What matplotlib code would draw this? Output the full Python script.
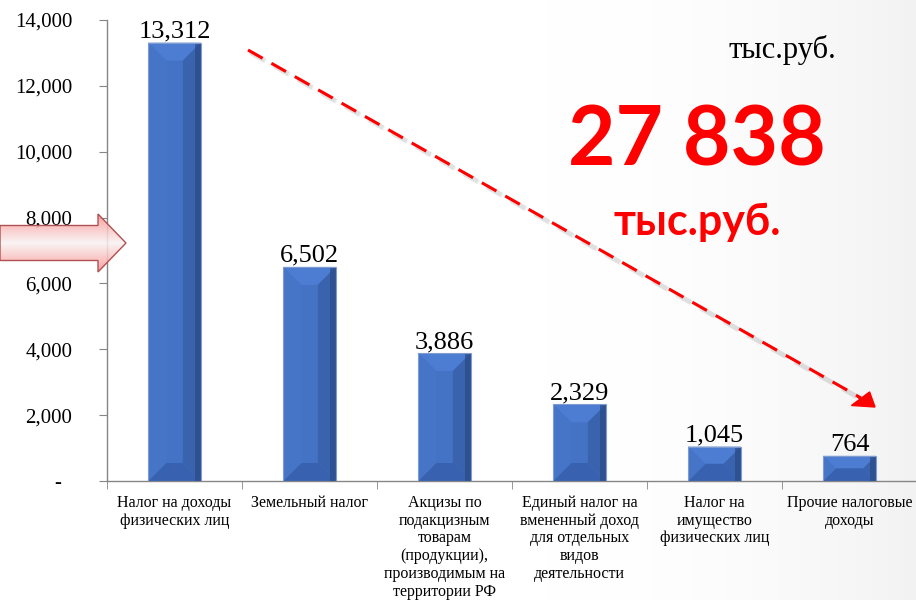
import numpy as np
import matplotlib
matplotlib.use("Agg")
from matplotlib import pyplot as plt
from matplotlib.patches import Polygon, FancyArrow
from matplotlib.lines import Line2D
from matplotlib.ticker import FuncFormatter

categories = [
    "Налог на доходы\nфизических лиц",
    "Земельный налог",
    "Акцизы по\nподакцизным\nтоварам\n(продукции),\nпроизводимым на\nтерритории РФ",
    "Единый налог на\nвмененный доход\nдля отдельных\nвидов\nдеятельности",
    "Налог на\nимущество\nфизических лиц",
    "Прочие налоговые\nдоходы",
]
values = [13312, 6502, 3886, 2329, 1045, 764]
total_label = "27 838"
unit_label = "тыс.руб."
y_ticks = [0, 2000, 4000, 6000, 8000, 10000, 12000, 14000]

serif = "Liberation Serif"
bold_sans = "Lato"

W, H = 916, 600
fig = plt.figure(figsize=(W / 100, H / 100), dpi=100)

# faint grey background towards the right edge
bg = fig.add_axes([0, 0, 1, 1], zorder=-10)
gx, gy = np.meshgrid(np.linspace(0, 1, 200), np.linspace(0, 1, 200))
shade = 1.0 - 0.05 * np.clip((gx - 0.6) / 0.4, 0, 1) ** 2
bg.imshow(np.dstack([shade] * 3), extent=[0, 1, 0, 1], aspect="auto")
bg.set_axis_off()

ax = fig.add_axes([107 / W, 1 - 481 / H, 810 / W, 461 / H])
ax.patch.set_alpha(0)

x = np.arange(len(values))
bar_w = 0.39
bars = ax.bar(x, values, width=bar_w, color="#4472C4", edgecolor="none", zorder=3)

# bevel look on the bars
px_y = 14000 / 461
px_x = 6 / 810
for b in bars:
    x0, w, h = b.get_x(), b.get_width(), b.get_height()
    x1, y1 = x0 + w, h
    d = min(18, h / px_y / 2)
    dx, dy = d * px_x, d * px_y
    faces = [
        ([(x0, y1), (x1, y1), (x1 - dx, y1 - dy), (x0 + dx, y1 - dy)], "#4D7DD2"),
        ([(x0, 0), (x1, 0), (x1 - dx, dy), (x0 + dx, dy)], "#3862B0"),
        ([(x0, 0), (x0, y1), (x0 + dx, y1 - dy), (x0 + dx, dy)], "#4675C8"),
        ([(x1, 0), (x1, y1), (x1 - dx, y1 - dy), (x1 - dx, dy)], "#3A63AE"),
    ]
    for pts, c in faces:
        ax.add_patch(Polygon(pts, closed=True, facecolor=c, edgecolor="none",
                             zorder=4))
    # darker strip along the right edge
    ax.add_patch(Polygon([(x1 - 6 * px_x, 0), (x1 - 6 * px_x, y1), (x1, y1), (x1, 0)],
                         closed=True, facecolor="#2A4A86", edgecolor="none",
                         alpha=0.7, zorder=4))
    ax.add_patch(Polygon([(x0, 0), (x0, y1), (x1, y1), (x1, 0)], closed=True,
                         fill=False, edgecolor="#7F9BCF", linewidth=0.8, zorder=5))

for xi, v in zip(x, values):
    ax.annotate(f"{v:,}", (xi, v), xytext=(0, 0), textcoords="offset points",
                ha="center", va="bottom", fontsize=19, family=serif, zorder=6)

ax.set_xlim(-0.5, len(values) - 0.5)
ax.set_ylim(0, 14000)
ax.set_yticks(y_ticks)
ax.yaxis.set_major_formatter(FuncFormatter(lambda v, p: "-  " if v == 0 else f"{int(v):,}"))
ax.tick_params(axis="y", length=6, color="#868686", labelsize=15, pad=19)
for t in ax.get_yticklabels():
    t.set_family(serif)

ax.set_xticks(x)
ax.set_xticklabels(categories, fontsize=11.5, family=serif, linespacing=1.15)
ax.set_xticks(np.arange(-0.5, len(values)), minor=True)
ax.tick_params(axis="x", which="major", length=0, pad=10)
ax.tick_params(axis="x", which="minor", length=6, color="#868686")

for s in ["top", "right"]:
    ax.spines[s].set_visible(False)
for s in ["left", "bottom"]:
    ax.spines[s].set_color("#868686")
    ax.spines[s].set_linewidth(1.0)

# texts on the right
fig.text(782 / W, 1 - 50 / H, unit_label, ha="center", va="center",
         fontsize=22, family=serif)
fig.text(697 / W, 1 - 142 / H, total_label, ha="center", va="center",
         fontsize=59, family=bold_sans, weight="bold", color="#FF0000")
fig.text(697 / W, 1 - 222 / H, unit_label, ha="center", va="center",
         fontsize=31, family=bold_sans, weight="bold", color="#FF0000")

# dashed red trend arrow with a soft shadow
sx, sy = 248 / W, 1 - 50 / H
ex, ey = 875 / W, 1 - 407 / H
lx, ly = ex - 14 / W, ey + 9 / H
for off, a in [(3, 0.10), (2, 0.15)]:
    fig.add_artist(Line2D([sx + off / W, lx + off / W], [sy - off / H, ly - off / H],
                          color="#808080", alpha=a, lw=3.5, dashes=(3.5, 2.1)))
fig.add_artist(Line2D([sx, lx], [sy, ly], color="#FF0000", lw=2.2,
                      dashes=(5.5, 3.3)))
head_len = 20
fig.patches.append(FancyArrow(ex - head_len * 0.87 / W, ey + head_len * 0.5 / H,
                              head_len * 0.87 / W, -head_len * 0.5 / H,
                              width=0.0, head_width=0.03, head_length=0.021,
                              length_includes_head=True, color="#FF0000",
                              transform=fig.transFigure, figure=fig))

# pink block arrow on the left, filled with a vertical gradient
arrow = FancyArrow(0, 1 - 243 / H, 126 / W, 0, width=35 / H, head_width=58 / H,
                   head_length=28 / W, length_includes_head=True,
                   transform=fig.transFigure, facecolor="none",
                   edgecolor="#B05050", linewidth=1.0, figure=fig, zorder=3)
fig.patches.append(arrow)
gax = fig.add_axes([0, 1 - 273 / H, 127 / W, 60 / H], zorder=1)
gax.set_axis_off()
gy2 = np.linspace(0, 1, 100)[:, None]
band = 1 - np.abs(gy2 - 0.5) * 2
img = np.dstack([np.ones_like(band) * 0.98, 0.55 + 0.4 * band, 0.55 + 0.4 * band])
im = gax.imshow(np.repeat(img, 10, axis=1), aspect="auto", alpha=0.85)
im.set_clip_path(arrow)

fig.savefig("out.png", dpi=100)
